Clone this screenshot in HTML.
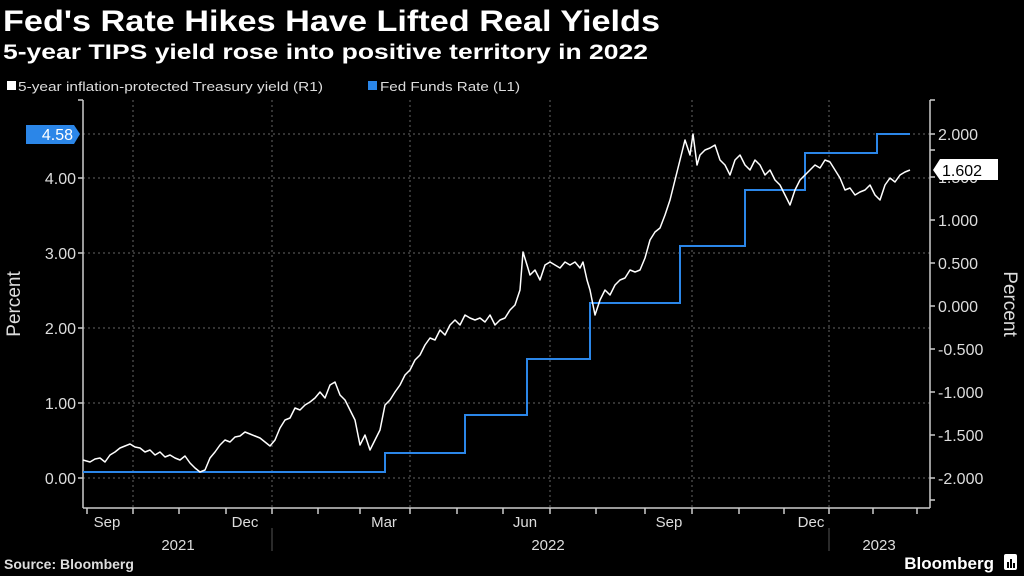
<!DOCTYPE html>
<html><head><meta charset="utf-8"><style>
html,body{margin:0;padding:0;background:#000;}
svg{display:block;font-family:"Liberation Sans",sans-serif;}
</style></head><body>
<svg width="1024" height="576" viewBox="0 0 1024 576" xmlns="http://www.w3.org/2000/svg">
<rect width="1024" height="576" fill="#000"/>
<text x="3" y="31" fill="#fff" font-size="30" font-weight="bold" textLength="657" lengthAdjust="spacingAndGlyphs">Fed's Rate Hikes Have Lifted Real Yields</text>
<text x="3" y="59" fill="#fff" font-size="21" font-weight="bold" textLength="645" lengthAdjust="spacingAndGlyphs">5-year TIPS yield rose into positive territory in 2022</text>
<rect x="7" y="81" width="9" height="9" fill="#fff"/>
<text x="18" y="91" fill="#ddd" font-size="13" textLength="305" lengthAdjust="spacingAndGlyphs">5-year inflation-protected Treasury yield (R1)</text>
<rect x="368" y="81" width="9" height="9" fill="#2b86e8"/>
<text x="380" y="91" fill="#ddd" font-size="13" textLength="140" lengthAdjust="spacingAndGlyphs">Fed Funds Rate (L1)</text>
<!-- grid -->
<g stroke="#666" stroke-dasharray="2,3" stroke-width="1">
<line x1="83" x2="930" y1="478" y2="478"/><line x1="83" x2="930" y1="403" y2="403"/>
<line x1="83" x2="930" y1="328" y2="328"/><line x1="83" x2="930" y1="253" y2="253"/>
<line x1="83" x2="930" y1="178" y2="178"/><line x1="83" x2="930" y1="134" y2="134"/>
<line x1="133" x2="133" y1="100" y2="508"/><line x1="272" x2="272" y1="100" y2="508"/>
<line x1="410" x2="410" y1="100" y2="508"/><line x1="550" x2="550" y1="100" y2="508"/>
<line x1="692" x2="692" y1="100" y2="508"/><line x1="829" x2="829" y1="100" y2="508"/>
</g>
<!-- axes -->
<g stroke="#ccc" stroke-width="1.5" fill="none">
<line x1="83" y1="100" x2="83" y2="508"/>
<line x1="930" y1="100" x2="930" y2="508"/>
<line x1="83" y1="508" x2="930" y2="508"/>
</g>
<g stroke="#ccc" stroke-width="1.5">
<line x1="78" x2="83" y1="478" y2="478"/><line x1="78" x2="83" y1="403" y2="403"/><line x1="78" x2="83" y1="328" y2="328"/><line x1="78" x2="83" y1="253" y2="253"/><line x1="78" x2="83" y1="178" y2="178"/><line x1="78" x2="83" y1="100" y2="100"/>
<line x1="930" x2="935" y1="134" y2="134"/><line x1="930" x2="935" y1="177" y2="177"/><line x1="930" x2="935" y1="220" y2="220"/><line x1="930" x2="935" y1="263" y2="263"/><line x1="930" x2="935" y1="306" y2="306"/><line x1="930" x2="935" y1="349" y2="349"/><line x1="930" x2="935" y1="392" y2="392"/><line x1="930" x2="935" y1="435" y2="435"/><line x1="930" x2="935" y1="478" y2="478"/><line x1="930" x2="935" y1="100" y2="100"/><line x1="930" x2="935" y1="150" y2="150"/><line x1="930" x2="935" y1="500" y2="500"/>
<line x1="87" x2="87" y1="508" y2="514"/><line x1="133" x2="133" y1="508" y2="514"/><line x1="179" x2="179" y1="508" y2="514"/><line x1="226" x2="226" y1="508" y2="514"/><line x1="272" x2="272" y1="508" y2="514"/><line x1="318" x2="318" y1="508" y2="514"/><line x1="360" x2="360" y1="508" y2="514"/><line x1="410" x2="410" y1="508" y2="514"/><line x1="457" x2="457" y1="508" y2="514"/><line x1="503" x2="503" y1="508" y2="514"/><line x1="550" x2="550" y1="508" y2="514"/><line x1="596" x2="596" y1="508" y2="514"/><line x1="645" x2="645" y1="508" y2="514"/><line x1="692" x2="692" y1="508" y2="514"/><line x1="739" x2="739" y1="508" y2="514"/><line x1="784" x2="784" y1="508" y2="514"/><line x1="829" x2="829" y1="508" y2="514"/><line x1="873" x2="873" y1="508" y2="514"/><line x1="917" x2="917" y1="508" y2="514"/>
</g>
<line x1="272" x2="272" y1="528" y2="551" stroke="#555"/>
<line x1="829" x2="829" y1="528" y2="551" stroke="#555"/>
<g fill="#ddd" font-size="16" text-anchor="end">
<text x="76" y="484">0.00</text><text x="76" y="409">1.00</text><text x="76" y="334">2.00</text><text x="76" y="259">3.00</text><text x="76" y="184">4.00</text>
</g>
<g fill="#ddd" font-size="16" text-anchor="start">
<text x="938" y="140">2.000</text><text x="938" y="183">1.500</text><text x="938" y="226">1.000</text><text x="938" y="269">0.500</text><text x="938" y="312">0.000</text><text x="938" y="355">-0.500</text><text x="938" y="398">-1.000</text><text x="938" y="441">-1.500</text><text x="938" y="484">-2.000</text>
</g>
<g fill="#ddd" font-size="15" text-anchor="middle">
<text x="107" y="527">Sep</text><text x="245" y="527">Dec</text><text x="384" y="527">Mar</text><text x="525" y="527">Jun</text><text x="669" y="527">Sep</text><text x="811" y="527">Dec</text>
<text x="178" y="550">2021</text><text x="548" y="550">2022</text><text x="879" y="550">2023</text>
</g>
<text transform="translate(20,304) rotate(-90)" fill="#ddd" font-size="19" text-anchor="middle">Percent</text>
<text transform="translate(1004,304) rotate(90)" fill="#ddd" font-size="19" text-anchor="middle">Percent</text>
<!-- series -->
<polyline fill="none" stroke="#2b86e8" stroke-width="2" points="83,472 385,472 385,453 465,453 465,415 527,415 527,359 590,359 590,303 680,303 680,246 745,246 745,190 805,190 805,153 877,153 877,134 910,134"/>
<polyline fill="none" stroke="#fff" stroke-width="1.5" stroke-linejoin="round" points="83,460 90,462 95,459 100,458 105,462 110,455 115,452 120,448 125,446 130,444 135,447 140,448 145,452 150,450 155,455 160,452 165,457 170,455 175,458 180,460 185,456 190,463 195,468 200,472 205,470 210,458 215,452 220,445 225,440 230,442 235,437 240,436 245,432 250,434 255,436 260,438 265,442 270,446 275,440 280,428 285,420 290,418 295,408 300,410 305,405 310,402 315,398 320,392 325,398 330,385 335,382 340,395 345,400 350,410 355,420 360,445 365,435 370,450 375,440 380,430 385,405 390,400 395,392 400,385 405,375 410,370 415,360 420,355 425,345 430,338 435,340 440,330 445,335 450,325 455,320 460,325 465,315 470,318 475,320 480,318 485,322 490,315 495,325 500,320 505,318 510,310 515,305 520,290 523,252 527,265 530,275 535,270 540,280 545,265 550,262 555,265 560,268 565,262 570,265 575,262 580,268 583,262 587,280 590,290 595,315 600,300 605,290 610,295 615,285 620,280 625,278 630,270 635,272 640,270 645,258 650,240 655,232 660,228 665,215 670,200 675,180 680,160 685,140 690,155 693,134 697,165 700,155 705,150 710,148 715,145 720,160 725,165 730,175 735,160 740,155 745,165 750,170 755,160 760,165 765,175 770,170 775,180 780,185 785,195 790,205 795,190 800,180 805,175 810,170 815,165 820,168 825,160 830,162 835,170 840,178 845,190 850,188 855,195 860,192 865,190 870,185 875,195 880,200 885,185 890,178 895,182 900,175 905,172 910,170"/>
<!-- value labels -->
<polygon points="26,125 74,125 80,134 74,144 26,144" fill="#2b86e8"/>
<text x="73" y="140" fill="#fff" font-size="16" text-anchor="end">4.58</text>
<polygon points="933,170 940,159 998,159 998,180 940,180" fill="#fff"/>
<text x="942" y="176" fill="#000" font-size="16">1.602</text>
<text x="4" y="569" fill="#ddd" font-size="14" font-weight="bold">Source: Bloomberg</text>
<text x="994" y="569" fill="#fff" font-size="17" font-weight="bold" text-anchor="end">Bloomberg</text>
<rect x="1004" y="554" width="13" height="16" rx="2" fill="#fff"/>
<g fill="#000"><rect x="1007" y="562" width="2" height="6"/><rect x="1010" y="559" width="2" height="9"/><rect x="1013" y="563" width="2" height="5"/></g>
</svg>
</body></html>
